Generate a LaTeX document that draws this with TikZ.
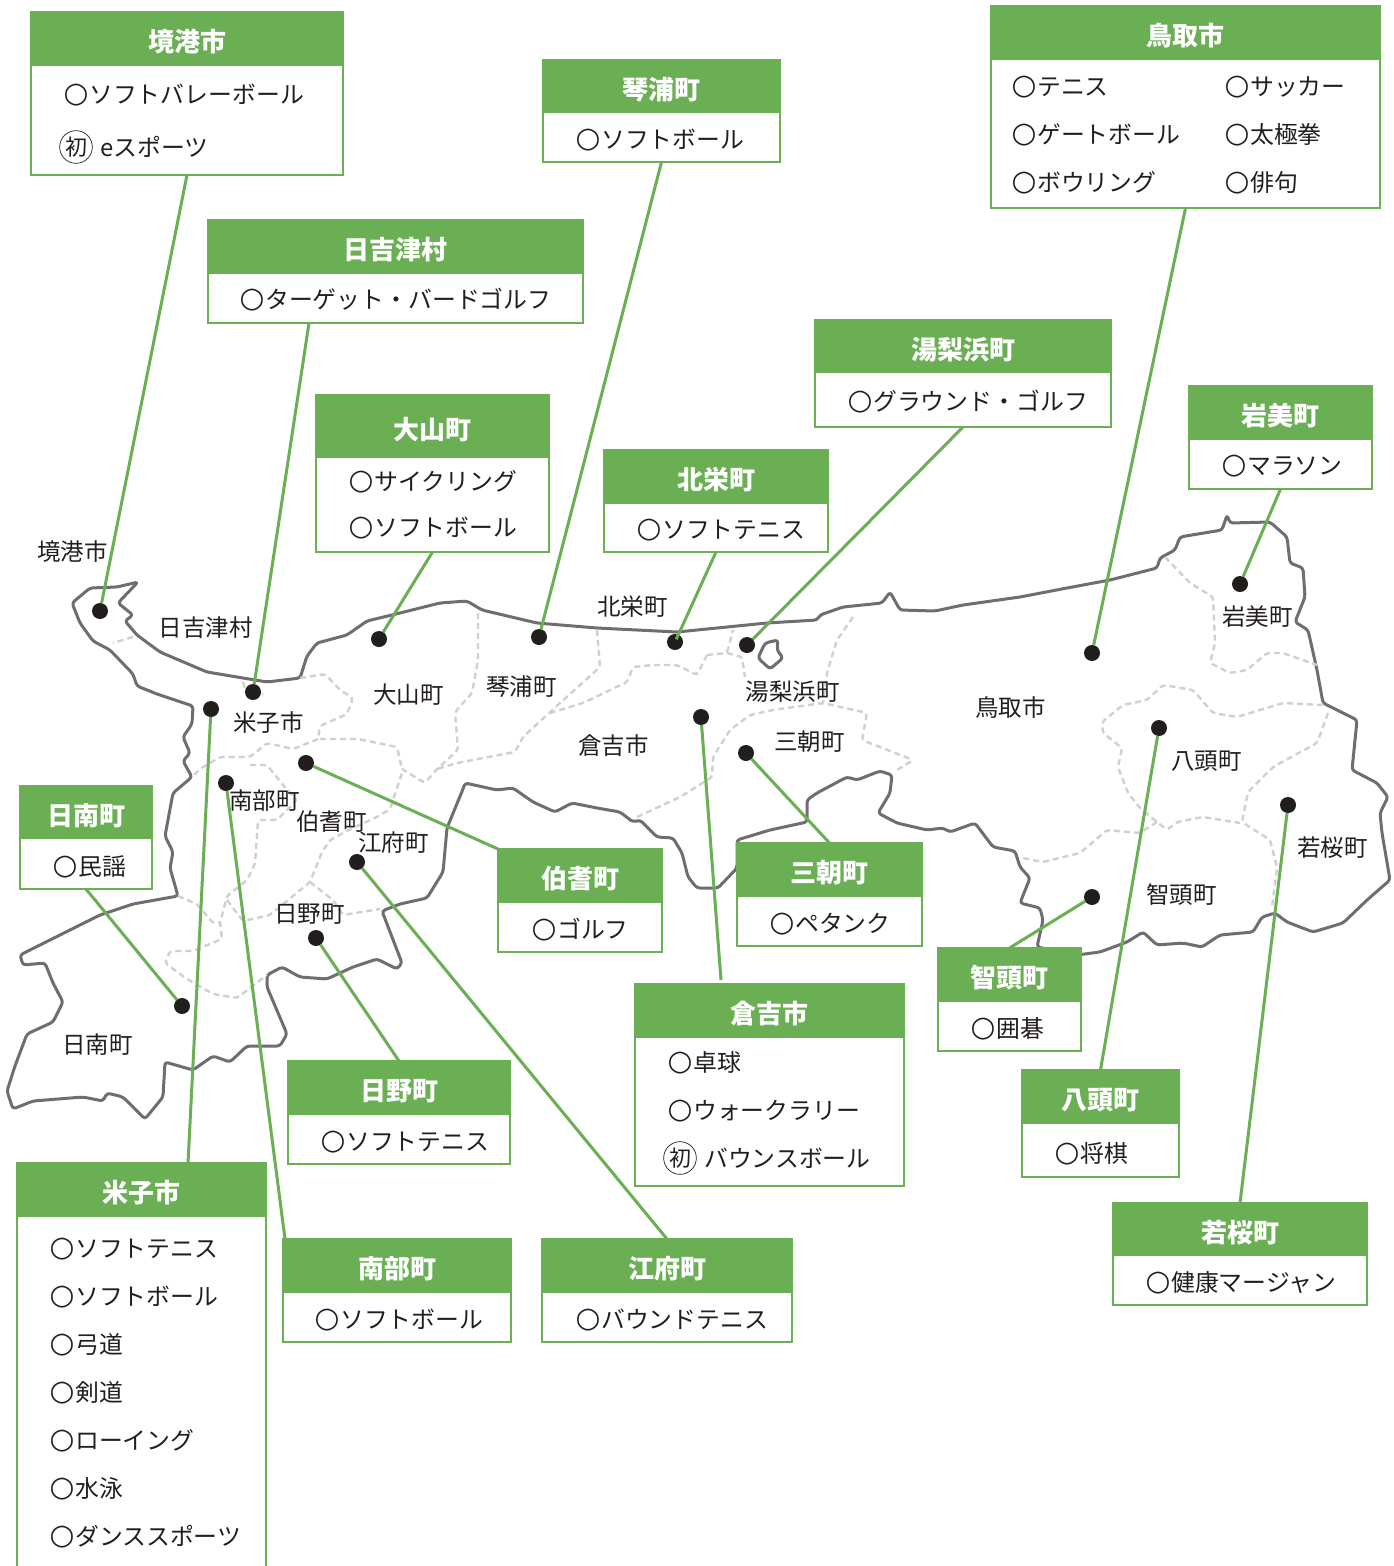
\documentclass[tikz,border=0pt]{standalone}
\usepackage{fontspec}
\setmainfont{Noto Sans CJK JP}
\newfontfamily\marufont{DejaVu Sans}
\definecolor{leaf}{RGB}{107,175,85}
\definecolor{coast}{RGB}{110,110,112}
\definecolor{border}{RGB}{208,208,208}
\definecolor{ink}{RGB}{35,30,30}
\newcommand{\maru}{\makebox[24pt][l]{\hspace{-1.5pt}\raisebox{1pt}{\fontsize{28.5}{24}\marufont\bfseries ○}}}
\newcommand{\infobox}[7]{%
  \node[boxframe,minimum width={(#4-#2)*1pt},minimum height={(#5-#3)*1pt}] (#1) at ({(#2+#4)/2},{(#3+#5)/2}) {};
  \node[boxhead,minimum width={(#4-#2+2)*1pt},minimum height={(#6-#3)*1pt}] (#1-head) at ({(#2+#4)/2},{(#3+#6)/2}) {#7};
}
\tikzset{
  boxframe/.style={draw=leaf,line width=2.4pt,fill=white,inner sep=0pt,outer sep=0pt},
  boxhead/.style={fill=leaf,text=white,inner sep=0pt,outer sep=0pt,text height=25pt,text depth=0pt,font=\fontsize{26}{26}\selectfont\bfseries},
  itemtext/.style={anchor=west,inner sep=0pt,text=ink,text height=21pt,text depth=3pt,font=\fontsize{23.85}{24}\selectfont},
  maplabel/.style={inner sep=0pt,text=ink,xshift=0.5pt,yshift=-0.5pt,font=\fontsize{23.5}{23.5}\selectfont},
  spot/.style={circle,fill=ink,minimum size=16pt,inner sep=0pt,outer sep=0pt},
  link/.style={draw=leaf,line width=3pt},
  shore/.style={draw=coast,line width=3pt,line join=round,rounded corners=3pt},
  divide/.style={draw=border,line width=2.4pt,dash pattern=on 6pt off 4pt,rounded corners=3pt},
  firstmark/.style={circle,draw=ink,line width=0.7pt,inner sep=1pt,minimum size=31pt,text=ink,font=\fontsize{22}{22}\selectfont},
}
\begin{document}
\begin{tikzpicture}[x=1pt,y=-1pt]
\useasboundingbox (0,0) rectangle (1394,1566);
\fill[white] (0,0) rectangle (1394,1566);
% prefecture outline
\draw[shore] (138,582) -- (117,587) -- (90,588) -- (72,603) -- (80,623) -- (93,641) -- (110,650) -- (133,674) -- (137,686) -- (157,694) -- (193,706) -- (192,724) -- (183,737) -- (190,753) -- (183,761) -- (192,777) -- (173,793) -- (165,836) -- (173,852) -- (170,868) -- (178,896) -- (133,904) -- (100,915) -- (20,955) -- (23,965) -- (45,963) -- (53,983) -- (63,1002) -- (53,1022) -- (27,1034) -- (15,1066) -- (7,1091) -- (13,1109) -- (33,1101) -- (83,1097) -- (103,1101) -- (107,1093) -- (123,1097) -- (145,1119) -- (163,1097) -- (165,1062) -- (193,1070) -- (213,1056) -- (230,1062) -- (247,1046) -- (280,1046) -- (287,1034) -- (267,987) -- (267,975) -- (282,967) -- (300,977) -- (327,979) -- (353,967) -- (377,959) -- (397,969) -- (402,963) -- (382,911) -- (400,904) -- (427,898) -- (443,872) -- (447,828) -- (463,789) -- (465,783) -- (497,790) -- (513,788) -- (533,802) -- (555,812) -- (572,803) -- (597,808) -- (620,812) -- (633,822) -- (640,820) -- (657,837) -- (673,838) -- (682,853) -- (688,877) -- (697,888) -- (718,888) -- (737,868) -- (737,840) -- (770,830) -- (807,822) -- (807,800) -- (817,793) -- (847,777) -- (857,780) -- (880,771) -- (892,775) -- (890,793) -- (878,813) -- (897,823) -- (927,830) -- (943,828) -- (950,832) -- (975,823) -- (993,847) -- (1015,851) -- (1020,867) -- (1030,878) -- (1020,903) -- (1040,908) -- (1043,920) -- (1037,947) -- (1077,955) -- (1100,952) -- (1127,942) -- (1143,932) -- (1157,945) -- (1183,943) -- (1202,947) -- (1220,935) -- (1253,932) -- (1262,917) -- (1275,913) -- (1287,922) -- (1313,932) -- (1343,923) -- (1367,900) -- (1390,880) -- (1382,833) -- (1380,813) -- (1388,797) -- (1377,783) -- (1352,770) -- (1357,720) -- (1323,703) -- (1317,670) -- (1308,630) -- (1295,622) -- (1305,597) -- (1303,568) -- (1290,563) -- (1287,537) -- (1270,522) -- (1230,523) -- (1227,515) -- (1222,530) -- (1180,537) -- (1175,550) -- (1160,558) -- (1157,568) -- (1110,580) -- (1067,588) -- (1020,597) -- (963,605) -- (935,611) -- (900,610) -- (890,592) -- (882,603) -- (843,607) -- (820,615) -- (817,620) -- (767,623) -- (677,632) -- (597,628) -- (537,623) -- (482,610) -- (467,601) -- (440,603) -- (400,613) -- (367,621) -- (347,635) -- (317,643) -- (307,656) -- (300,678) -- (267,682) -- (207,672) -- (160,652) -- (137,635) -- (125,621) -- (133,615) -- (118,603) -- cycle;
\draw[shore] (778,640) -- (765,643) -- (758,658) -- (770,669) -- (783,658) -- (777,650) -- cycle;
% municipal boundaries
\draw[divide] (133,637) -- (113,643);
\draw[divide] (243,682) -- (248,698) -- (263,694);
\draw[divide] (300,678) -- (325,674) -- (340,690) -- (353,698) -- (347,714) -- (320,726) -- (318,739) -- (358,739) -- (397,747) -- (402,769);
\draw[divide] (318,739) -- (293,749) -- (267,743) -- (250,757) -- (220,757) -- (200,769) -- (192,777);
\draw[divide] (250,765) -- (267,765) -- (283,785) -- (297,800) -- (277,820) -- (258,820) -- (255,864) -- (247,880) -- (227,896) -- (220,923) -- (222,939) -- (193,951) -- (170,951) -- (165,963) -- (187,979) -- (213,994) -- (237,998) -- (267,975);
\draw[divide] (178,896) -- (197,904) -- (213,923) -- (220,923);
\draw[divide] (227,900) -- (243,921) -- (270,915) -- (310,882) -- (322,852) -- (330,840) -- (353,828) -- (377,817) -- (390,809) -- (402,773);
\draw[divide] (310,882) -- (333,900) -- (343,915) -- (380,909);
\draw[divide] (478,613) -- (478,660) -- (472,693) -- (455,712) -- (458,750) -- (437,769) -- (425,783) -- (402,769);
\draw[divide] (597,630) -- (600,667) -- (560,703) -- (523,737) -- (515,752) -- (457,763) -- (437,769);
\draw[divide] (707,655) -- (697,675) -- (677,665) -- (653,665) -- (633,667) -- (627,682) -- (583,703) -- (550,713);
\draw[divide] (707,655) -- (727,653) -- (733,630);
\draw[divide] (727,653) -- (742,657) -- (745,677);
\draw[divide] (853,617) -- (837,640) -- (827,673) -- (823,703);
\draw[divide] (637,817) -- (680,797) -- (712,777) -- (713,757) -- (730,730) -- (750,715) -- (773,710) -- (823,703) -- (867,713) -- (862,740) -- (913,760) -- (897,770);
\draw[divide] (1165,557) -- (1190,583) -- (1213,597) -- (1215,643) -- (1210,663) -- (1230,673) -- (1247,670) -- (1267,653) -- (1283,653) -- (1317,665);
\draw[divide] (1323,705) -- (1283,703) -- (1237,717) -- (1213,713) -- (1193,690) -- (1163,685) -- (1147,700) -- (1123,705) -- (1102,722) -- (1103,733) -- (1122,748) -- (1118,767) -- (1128,793) -- (1140,808) -- (1157,822) -- (1167,830) -- (1177,822) -- (1203,817) -- (1240,823);
\draw[divide] (1328,713) -- (1317,743) -- (1273,767) -- (1248,792) -- (1242,822) -- (1270,840) -- (1277,867) -- (1272,907);
\draw[divide] (1157,822) -- (1140,833) -- (1107,830) -- (1080,853) -- (1043,862) -- (1022,858);
% place names on the map
\node[maplabel] (m1) at (72,551) {境港市};
\node[maplabel] (m2) at (205,627) {日吉津村};
\node[maplabel] (m3) at (268,722) {米子市};
\node[maplabel] (m4) at (408,694) {大山町};
\node[maplabel] (m5) at (521,686) {琴浦町};
\node[maplabel] (m6) at (632,606) {北栄町};
\node[maplabel] (m7) at (792,691) {湯梨浜町};
\node[maplabel] (m8) at (613,745) {倉吉市};
\node[maplabel] (m9) at (809,741) {三朝町};
\node[maplabel] (m10) at (1010,707) {鳥取市};
\node[maplabel] (m11) at (1257,616) {岩美町};
\node[maplabel] (m12) at (1206,761) {八頭町};
\node[maplabel] (m13) at (1332,847) {若桜町};
\node[maplabel] (m14) at (1181,894) {智頭町};
\node[maplabel] (m15) at (264,800) {南部町};
\node[maplabel] (m16) at (331,821) {伯耆町};
\node[maplabel] (m17) at (393,842) {江府町};
\node[maplabel] (m18) at (309,914) {日野町};
\node[maplabel] (m19) at (97,1044) {日南町};
% location dots
\node[spot] (dSakai) at (100,611) {};
\node[spot] (dHiezu) at (253,692) {};
\node[spot] (dDaisen) at (379,639) {};
\node[spot] (dKotoura) at (539,637) {};
\node[spot] (dHokuei) at (675,642) {};
\node[spot] (dYurihama) at (747,645) {};
\node[spot] (dKurayoshi) at (701,717) {};
\node[spot] (dMisasa) at (746,753) {};
\node[spot] (dTottori) at (1092,653) {};
\node[spot] (dIwami) at (1240,584) {};
\node[spot] (dYazu) at (1159,728) {};
\node[spot] (dWakasa) at (1288,805) {};
\node[spot] (dChizu) at (1092,897) {};
\node[spot] (dHouki) at (306,763) {};
\node[spot] (dNanbu) at (226,783) {};
\node[spot] (dYonago) at (211,709) {};
\node[spot] (dKofu) at (357,862) {};
\node[spot] (dHino) at (316,938) {};
\node[spot] (dNichinan) at (182,1006) {};
% boxes
\infobox{bSakai}{31}{12}{343}{175}{66}{境港市}
\infobox{bKotoura}{543}{60}{780}{162}{113}{琴浦町}
\infobox{bTottori}{991}{6}{1380}{208}{60}{鳥取市}
\infobox{bHiezu}{208}{220}{583}{323}{274}{日吉津村}
\infobox{bYurihama}{815}{320}{1111}{427}{373}{湯梨浜町}
\infobox{bIwami}{1189}{386}{1372}{489}{440}{岩美町}
\infobox{bDaisen}{316}{395}{549}{552}{458}{大山町}
\infobox{bHokuei}{604}{450}{828}{552}{504}{北栄町}
\infobox{bNichinan}{20}{786}{152}{889}{839}{日南町}
\infobox{bHouki}{498}{849}{662}{952}{903}{伯耆町}
\infobox{bMisasa}{737}{843}{922}{946}{897}{三朝町}
\infobox{bChizu}{938}{948}{1081}{1051}{1002}{智頭町}
\infobox{bKurayoshi}{635}{984}{904}{1186}{1038}{倉吉市}
\infobox{bHino}{288}{1061}{510}{1164}{1115}{日野町}
\infobox{bYazu}{1022}{1070}{1179}{1177}{1124}{八頭町}
\infobox{bWakasa}{1113}{1203}{1367}{1305}{1256}{若桜町}
\infobox{bYonago}{17}{1163}{266}{1572}{1217}{米子市}
\infobox{bNanbu}{283}{1239}{511}{1342}{1293}{南部町}
\infobox{bKofu}{542}{1239}{792}{1342}{1293}{江府町}
% connectors
\coordinate (cHiezu) at (309,323);
\coordinate (cKurayoshi) at (721,980);
\coordinate (cNanbu) at (285,1239);
\coordinate (cYonago) at (188,1163);
\draw[link] (bSakai.south) -- (dSakai);
\draw[link] (cHiezu) -- (dHiezu);
\draw[link] (bDaisen.south) -- (dDaisen);
\draw[link] (bKotoura.south) -- (dKotoura);
\draw[link,shorten >=3pt] (bHokuei.south) -- (dHokuei.center);
\draw[link] (bYurihama.south) -- (dYurihama);
\draw[link] (bTottori.south) -- (dTottori);
\draw[link] (bIwami.south) -- (dIwami);
\draw[link] (bNichinan.south) -- (dNichinan);
\draw[link] (bHouki.north west) -- (dHouki);
\draw[link] (bMisasa.north) -- (dMisasa);
\draw[link] (cKurayoshi) -- (dKurayoshi);
\draw[link] (bChizu.north) -- (dChizu);
\draw[link] (bYazu.north) -- (dYazu);
\draw[link] (bWakasa.north) -- (dWakasa);
\draw[link] (bHino.north) -- (dHino);
\draw[link] (bKofu.north) -- (dKofu);
\draw[link] (cNanbu) -- (dNanbu);
\draw[link] (cYonago) -- (dYonago);
% list entries
\node[itemtext] (i1) at (65,94) {\maru ソフトバレーボール};
\node[firstmark] (i2a) at (76,147) {初};
\node[itemtext] (i2) at (100,147) {eスポーツ};
\node[itemtext] (i3) at (577,139) {\maru ソフトボール};
\node[itemtext] (i4) at (1013,86) {\maru テニス};
\node[itemtext] (i5) at (1013,134) {\maru ゲートボール};
\node[itemtext] (i6) at (1013,182) {\maru ボウリング};
\node[itemtext] (i7) at (1226,86) {\maru サッカー};
\node[itemtext] (i8) at (1226,134) {\maru 太極拳};
\node[itemtext] (i9) at (1226,182) {\maru 俳句};
\node[itemtext] (i10) at (241,299) {\maru ターゲット・バードゴルフ};
\node[itemtext] (i11) at (849,401) {\maru グラウンド・ゴルフ};
\node[itemtext] (i12) at (1223,465) {\maru マラソン};
\node[itemtext] (i13) at (350,481) {\maru サイクリング};
\node[itemtext] (i14) at (350,527) {\maru ソフトボール};
\node[itemtext] (i15) at (638,529) {\maru ソフトテニス};
\node[itemtext] (i16) at (54,866) {\maru 民謡};
\node[itemtext] (i17) at (533,929) {\maru ゴルフ};
\node[itemtext] (i18) at (771,923) {\maru ペタンク};
\node[itemtext] (i19) at (972,1028) {\maru 囲碁};
\node[itemtext] (i20) at (669,1062) {\maru 卓球};
\node[itemtext] (i21) at (669,1110) {\maru ウォークラリー};
\node[firstmark] (i22a) at (680,1158) {初};
\node[itemtext] (i22) at (704,1158) {バウンスボール};
\node[itemtext] (i23) at (322,1141) {\maru ソフトテニス};
\node[itemtext] (i24) at (1056,1153) {\maru 将棋};
\node[itemtext] (i25) at (1147,1282) {\maru 健康マージャン};
\node[itemtext] (i26) at (51,1248) {\maru ソフトテニス};
\node[itemtext] (i27) at (51,1296) {\maru ソフトボール};
\node[itemtext] (i28) at (51,1344) {\maru 弓道};
\node[itemtext] (i29) at (51,1392) {\maru 剣道};
\node[itemtext] (i30) at (51,1440) {\maru ローイング};
\node[itemtext] (i31) at (51,1488) {\maru 水泳};
\node[itemtext] (i32) at (51,1536) {\maru ダンススポーツ};
\node[itemtext] (i33) at (316,1319) {\maru ソフトボール};
\node[itemtext] (i34) at (577,1319) {\maru バウンドテニス};
\end{tikzpicture}
\end{document}
